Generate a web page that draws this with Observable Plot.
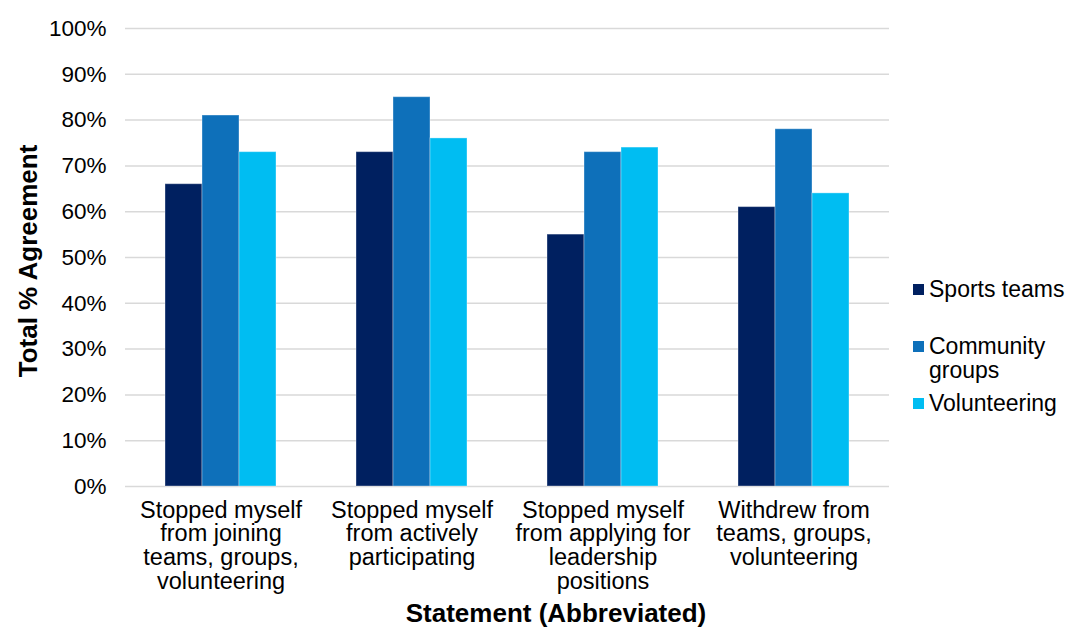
<!DOCTYPE html>
<html>
<head>
<meta charset="utf-8">
<script src="https://cdn.jsdelivr.net/npm/d3@7"></script>
<script src="https://cdn.jsdelivr.net/npm/@observablehq/plot@0.6"></script>
<style>
  body { margin: 0; background: #fff; font-family: "Liberation Sans", Arial, Helvetica, sans-serif; color: #000; }
  #wrap { position: relative; width: 1071px; height: 628px; overflow: hidden; background: #fff; }
  #wrap svg { position: absolute; left: 0; top: 0; }
  .ytitle { position: absolute; left: 28px; top: 261px; transform: translate(-50%, -50%) rotate(-90deg); font-weight: bold; font-size: 26px; white-space: nowrap; }
  .xtitle { position: absolute; left: 556px; top: 613px; transform: translate(-50%, -50%); font-weight: bold; font-size: 26px; white-space: nowrap; }
  .legend { position: absolute; left: 913px; top: 0; font-size: 23px; line-height: 24px; }
  .item { position: absolute; left: 0; display: flex; align-items: flex-start; white-space: nowrap; }
  .sw { width: 11px; height: 11px; margin-right: 5px; flex: none; }
</style>
</head>
<body>
<div id="wrap"></div>
<script>
const categories = [
  "Stopped myself from joining teams, groups, volunteering",
  "Stopped myself from actively participating",
  "Stopped myself from applying for leadership positions",
  "Withdrew from teams, groups, volunteering"
];
const tickLabels = [
  "Stopped myself\nfrom joining\nteams, groups,\nvolunteering",
  "Stopped myself\nfrom actively\nparticipating",
  "Stopped myself\nfrom applying for\nleadership\npositions",
  "Withdrew from\nteams, groups,\nvolunteering"
];
const series = ["Sports teams", "Community groups", "Volunteering"];
const sportsTeams = [66, 73, 55, 61];
const communityGroups = [81, 85, 73, 78];
const volunteering = [73, 76, 74, 64];
const yTicks = [0, 10, 20, 30, 40, 50, 60, 70, 80, 90, 100];
const colors = ["#002060", "#0E70BA", "#00BDF2"];

const valuesBySeries = [sportsTeams, communityGroups, volunteering];
const data = [];
categories.forEach((c, i) => {
  series.forEach((s, j) => data.push({category: c, series: s, value: valuesBySeries[j][i]}));
});

const plot = Plot.plot({
  width: 1071,
  height: 628,
  marginLeft: 124,
  marginRight: 181,
  marginTop: 28,
  marginBottom: 142,
  style: {fontFamily: '"Liberation Sans", Arial, Helvetica, sans-serif', background: "white", color: "#000", overflow: "visible"},
  fx: {domain: categories, padding: 0, label: null, axis: null},
  x: {domain: series, paddingInner: 0, paddingOuter: 1.065, axis: null},
  y: {domain: [0, 100], label: null},
  color: {domain: series, range: colors},
  marks: [
    Plot.gridY(yTicks, {stroke: "#d9d9d9", strokeOpacity: 1, strokeWidth: 1.5}),
    Plot.axisY(yTicks, {tickSize: 0, tickPadding: 19, fontSize: 22.5, tickFormat: d => d + "%", label: null}),
    Plot.barY(data, {fx: "category", x: "series", y: "value", fill: "series", stroke: "white", strokeOpacity: 0.35, strokeWidth: 1}),
    Plot.axisFx({anchor: "bottom", tickSize: 0, tickPadding: 14, fontSize: 23.5, lineHeight: 1.02, tickFormat: d => tickLabels[categories.indexOf(d)], label: null})
  ]
});

const wrap = document.getElementById("wrap");
wrap.appendChild(plot);

const yt = document.createElement("div");
yt.className = "ytitle";
yt.textContent = "Total % Agreement";
wrap.appendChild(yt);

const xt = document.createElement("div");
xt.className = "xtitle";
xt.textContent = "Statement (Abbreviated)";
wrap.appendChild(xt);

const legend = document.createElement("div");
legend.className = "legend";
const legendTops = [277, 334, 391];
const legendText = ["Sports teams", "Community<br>groups", "Volunteering"];
series.forEach((s, i) => {
  const it = document.createElement("div");
  it.className = "item";
  it.style.top = legendTops[i] + "px";
  it.innerHTML = `<div class="sw" style="background:${colors[i]};margin-top:7px"></div><div>${legendText[i]}</div>`;
  legend.appendChild(it);
});
wrap.appendChild(legend);
</script>
</body>
</html>
